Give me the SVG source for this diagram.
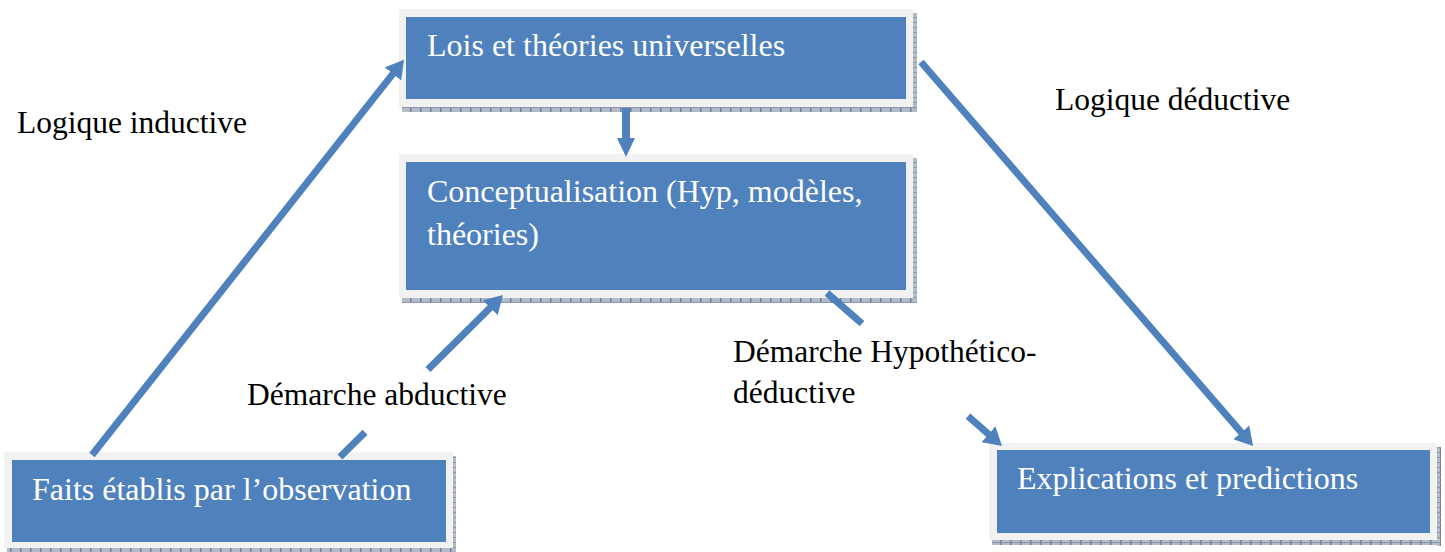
<svg xmlns="http://www.w3.org/2000/svg" width="1445" height="552" viewBox="0 0 1445 552">
  <style>
    .frame { fill: #F2F2F2; }
    .box { fill: #4F81BD; }
    .shadow { fill: url(#hatch); }
    .t { font-family: "Liberation Serif", "Times New Roman", serif; font-size: 32px; fill: #FFFFFF; }
    .lbl { font-family: "Liberation Serif", "Times New Roman", serif; font-size: 31.5px; fill: #000000; }
    .conn { fill: none; stroke: #4F81BD; stroke-width: 7; stroke-linecap: butt; }
  </style>
  <defs>
    <pattern id="hatch" patternUnits="userSpaceOnUse" width="10" height="5">
      <rect width="10" height="5" fill="#B3BBC8"/>
      <rect x="0" y="0" width="1.5" height="5" fill="#6F7F96"/>
      <rect x="0" y="2" width="10" height="1" fill="#8C99AC"/>
    </pattern>
    <marker id="ah" markerUnits="userSpaceOnUse" markerWidth="18" markerHeight="21" viewBox="0 0 18 21" refX="6" refY="10.5" orient="auto">
      <path d="M0,0 L18,10.5 L0,21 Z" fill="#4F81BD"/>
    </marker>
    <marker id="ahv" markerUnits="userSpaceOnUse" markerWidth="19" markerHeight="18" viewBox="0 0 19 18" refX="7" refY="9" orient="auto">
      <path d="M0,0 L19,9 L0,18 Z" fill="#4F81BD"/>
    </marker>
  </defs>

  <g id="node-lois">
    <rect class="shadow" x="913" y="13" width="4" height="99"/>
    <rect class="shadow" x="402" y="107" width="515" height="5"/>
    <rect class="frame" x="399" y="9" width="514" height="98"/>
    <rect class="box" x="406" y="17" width="500" height="82"/>
    <text class="t" x="427" y="56">Lois et théories universelles</text>
  </g>

  <g id="node-conceptualisation">
    <rect class="shadow" x="913" y="158" width="4" height="145"/>
    <rect class="shadow" x="402" y="298" width="515" height="5"/>
    <rect class="frame" x="399" y="154" width="514" height="144"/>
    <rect class="box" x="406" y="162" width="500" height="128"/>
    <text class="t" x="427" y="202">Conceptualisation (Hyp, modèles,</text>
    <text class="t" x="427" y="245">théories)</text>
  </g>

  <g id="node-faits">
    <rect class="shadow" x="453" y="456" width="3" height="96"/>
    <rect class="shadow" x="7" y="548" width="449" height="4"/>
    <rect class="frame" x="4" y="452" width="449" height="96"/>
    <rect class="box" x="12" y="460" width="434" height="82"/>
    <text class="t" x="32" y="500">Faits établis par l’observation</text>
  </g>

  <g id="node-explications">
    <rect class="shadow" x="1437" y="447" width="4" height="99"/>
    <rect class="shadow" x="992" y="540" width="449" height="5"/>
    <rect class="frame" x="989" y="443" width="448" height="97"/>
    <rect class="box" x="997" y="450" width="433" height="83"/>
    <text class="t" x="1017" y="489">Explications et predictions</text>
  </g>

  <g id="labels">
    <text class="lbl" x="17" y="133">Logique inductive</text>
    <text class="lbl" x="1055" y="110">Logique déductive</text>
    <text class="lbl" x="247" y="405">Démarche abductive</text>
    <text class="lbl" x="733" y="362">Démarche Hypothético-</text>
    <text class="lbl" x="733" y="403">déductive</text>
  </g>

  <g id="connectors">
    <path class="conn" d="M92,455 L396.6,69.2" marker-end="url(#ah)"/>
    <path class="conn" style="stroke-width:8" d="M626,108 L626,145" marker-end="url(#ahv)"/>
    <path class="conn" d="M921,62 L1245.2,436.9" marker-end="url(#ah)"/>
    <path class="conn" d="M340,457 L365,432.2 M428,369.5 L494.5,303.5" marker-end="url(#ah)"/>
    <path class="conn" d="M827,293 L862,323.6 M968,416.2 L993,438.1" marker-end="url(#ah)"/>
  </g>
</svg>
